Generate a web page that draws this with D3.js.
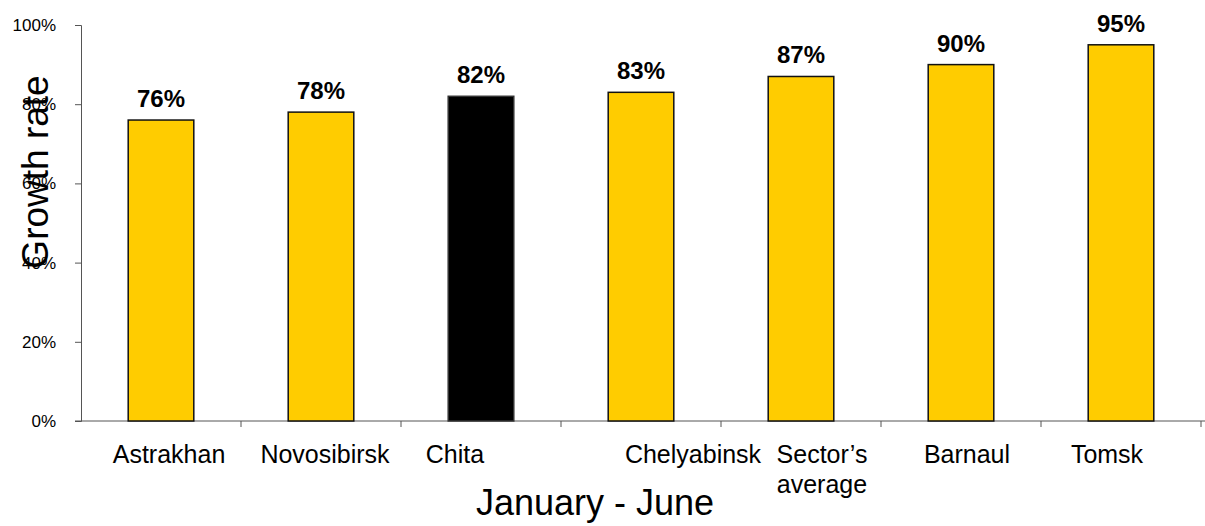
<!DOCTYPE html>
<html><head><meta charset="utf-8">
<script src="https://cdn.jsdelivr.net/npm/d3@7"></script>
<style>body{margin:0;background:#fff}svg{display:block;font-family:Arial,"Liberation Sans",sans-serif}</style>
</head><body>
<svg id="c" width="1205" height="526"></svg>
<script>
const categories = ["Astrakhan","Novosibirsk","Chita","Chelyabinsk","Sector’s\naverage","Barnaul","Tomsk"];
const values = [0.76,0.78,0.82,0.83,0.87,0.90,0.95];
const highlight = ["Chita"];
const yTicks = [0,0.2,0.4,0.6,0.8,1.0];

// layout-only nudges for category labels (pixels)
const labelNudge = [8,4,-26,52,21,6,-14];

const svg = d3.select("#c");
const m = {left:81, right:4, top:25, bottom:105};
const W = 1205, H = 526;
const x = d3.scaleBand().domain(categories).range([m.left, W - m.right]).paddingInner(0.59).paddingOuter(0.295);
const y = d3.scaleLinear().domain([0,1]).range([H - m.bottom, m.top]);
const pct = d3.format(".0%");

// y axis
const ya = svg.append("g").attr("transform",`translate(${m.left},0)`)
  .call(d3.axisLeft(y).tickValues(yTicks).tickFormat(pct).tickSizeOuter(0).tickSize(6));
ya.select(".domain").attr("stroke","#555");
ya.selectAll(".tick line").attr("stroke","#555");
ya.selectAll(".tick text").attr("font-size",17).attr("fill","#000").attr("x",-25);

// x axis baseline and ticks between categories
const xa = svg.append("g").attr("transform",`translate(0,${y(0)})`);
xa.append("line").attr("x1",m.left-6).attr("x2",W).attr("y1",0).attr("y2",0).attr("stroke","#555");
const step = x.step();
const boundaries = categories.map(c => x(c) + x.bandwidth()/2 + step/2);
xa.selectAll("line.t").data(boundaries).enter().append("line").attr("class","t")
  .attr("x1",d=>d).attr("x2",d=>d).attr("y1",0).attr("y2",6).attr("stroke","#555");

// bars
svg.selectAll("rect.bar").data(categories).enter().append("rect").attr("class","bar")
  .attr("x",d=>x(d)).attr("width",x.bandwidth())
  .attr("y",(d,i)=>y(values[i])).attr("height",(d,i)=>y(0)-y(values[i]))
  .attr("fill",d=>highlight.includes(d)?"#000":"#FFCC00")
  .attr("stroke",d=>highlight.includes(d)?"#333":"#111").attr("stroke-width",1.5);

// value labels
svg.selectAll("text.val").data(categories).enter().append("text").attr("class","val")
  .attr("x",d=>x(d)+x.bandwidth()/2).attr("y",(d,i)=>y(values[i])-13)
  .attr("text-anchor","middle").attr("font-size",24).attr("font-weight","bold")
  .text((d,i)=>pct(values[i]));

// category labels
const cl = svg.selectAll("text.cat").data(categories).enter().append("text").attr("class","cat")
  .attr("x",(d,i)=>x(d)+x.bandwidth()/2+labelNudge[i]).attr("y",463)
  .attr("text-anchor","middle").attr("font-size",25);
cl.each(function(d){
  const sx = d3.select(this).attr("x");
  d3.select(this).selectAll("tspan").data(d.split("\n")).enter().append("tspan")
    .attr("x",sx).attr("dy",(l,j)=>j?30:0).text(l=>l);
});

// axis titles
svg.append("text").attr("x",595).attr("y",515).attr("text-anchor","middle").attr("font-size",36).text("January - June");
svg.append("text").attr("transform","translate(48,172) rotate(-90)").attr("text-anchor","middle").attr("font-size",37).text("Growth rate");
</script>
</body></html>
